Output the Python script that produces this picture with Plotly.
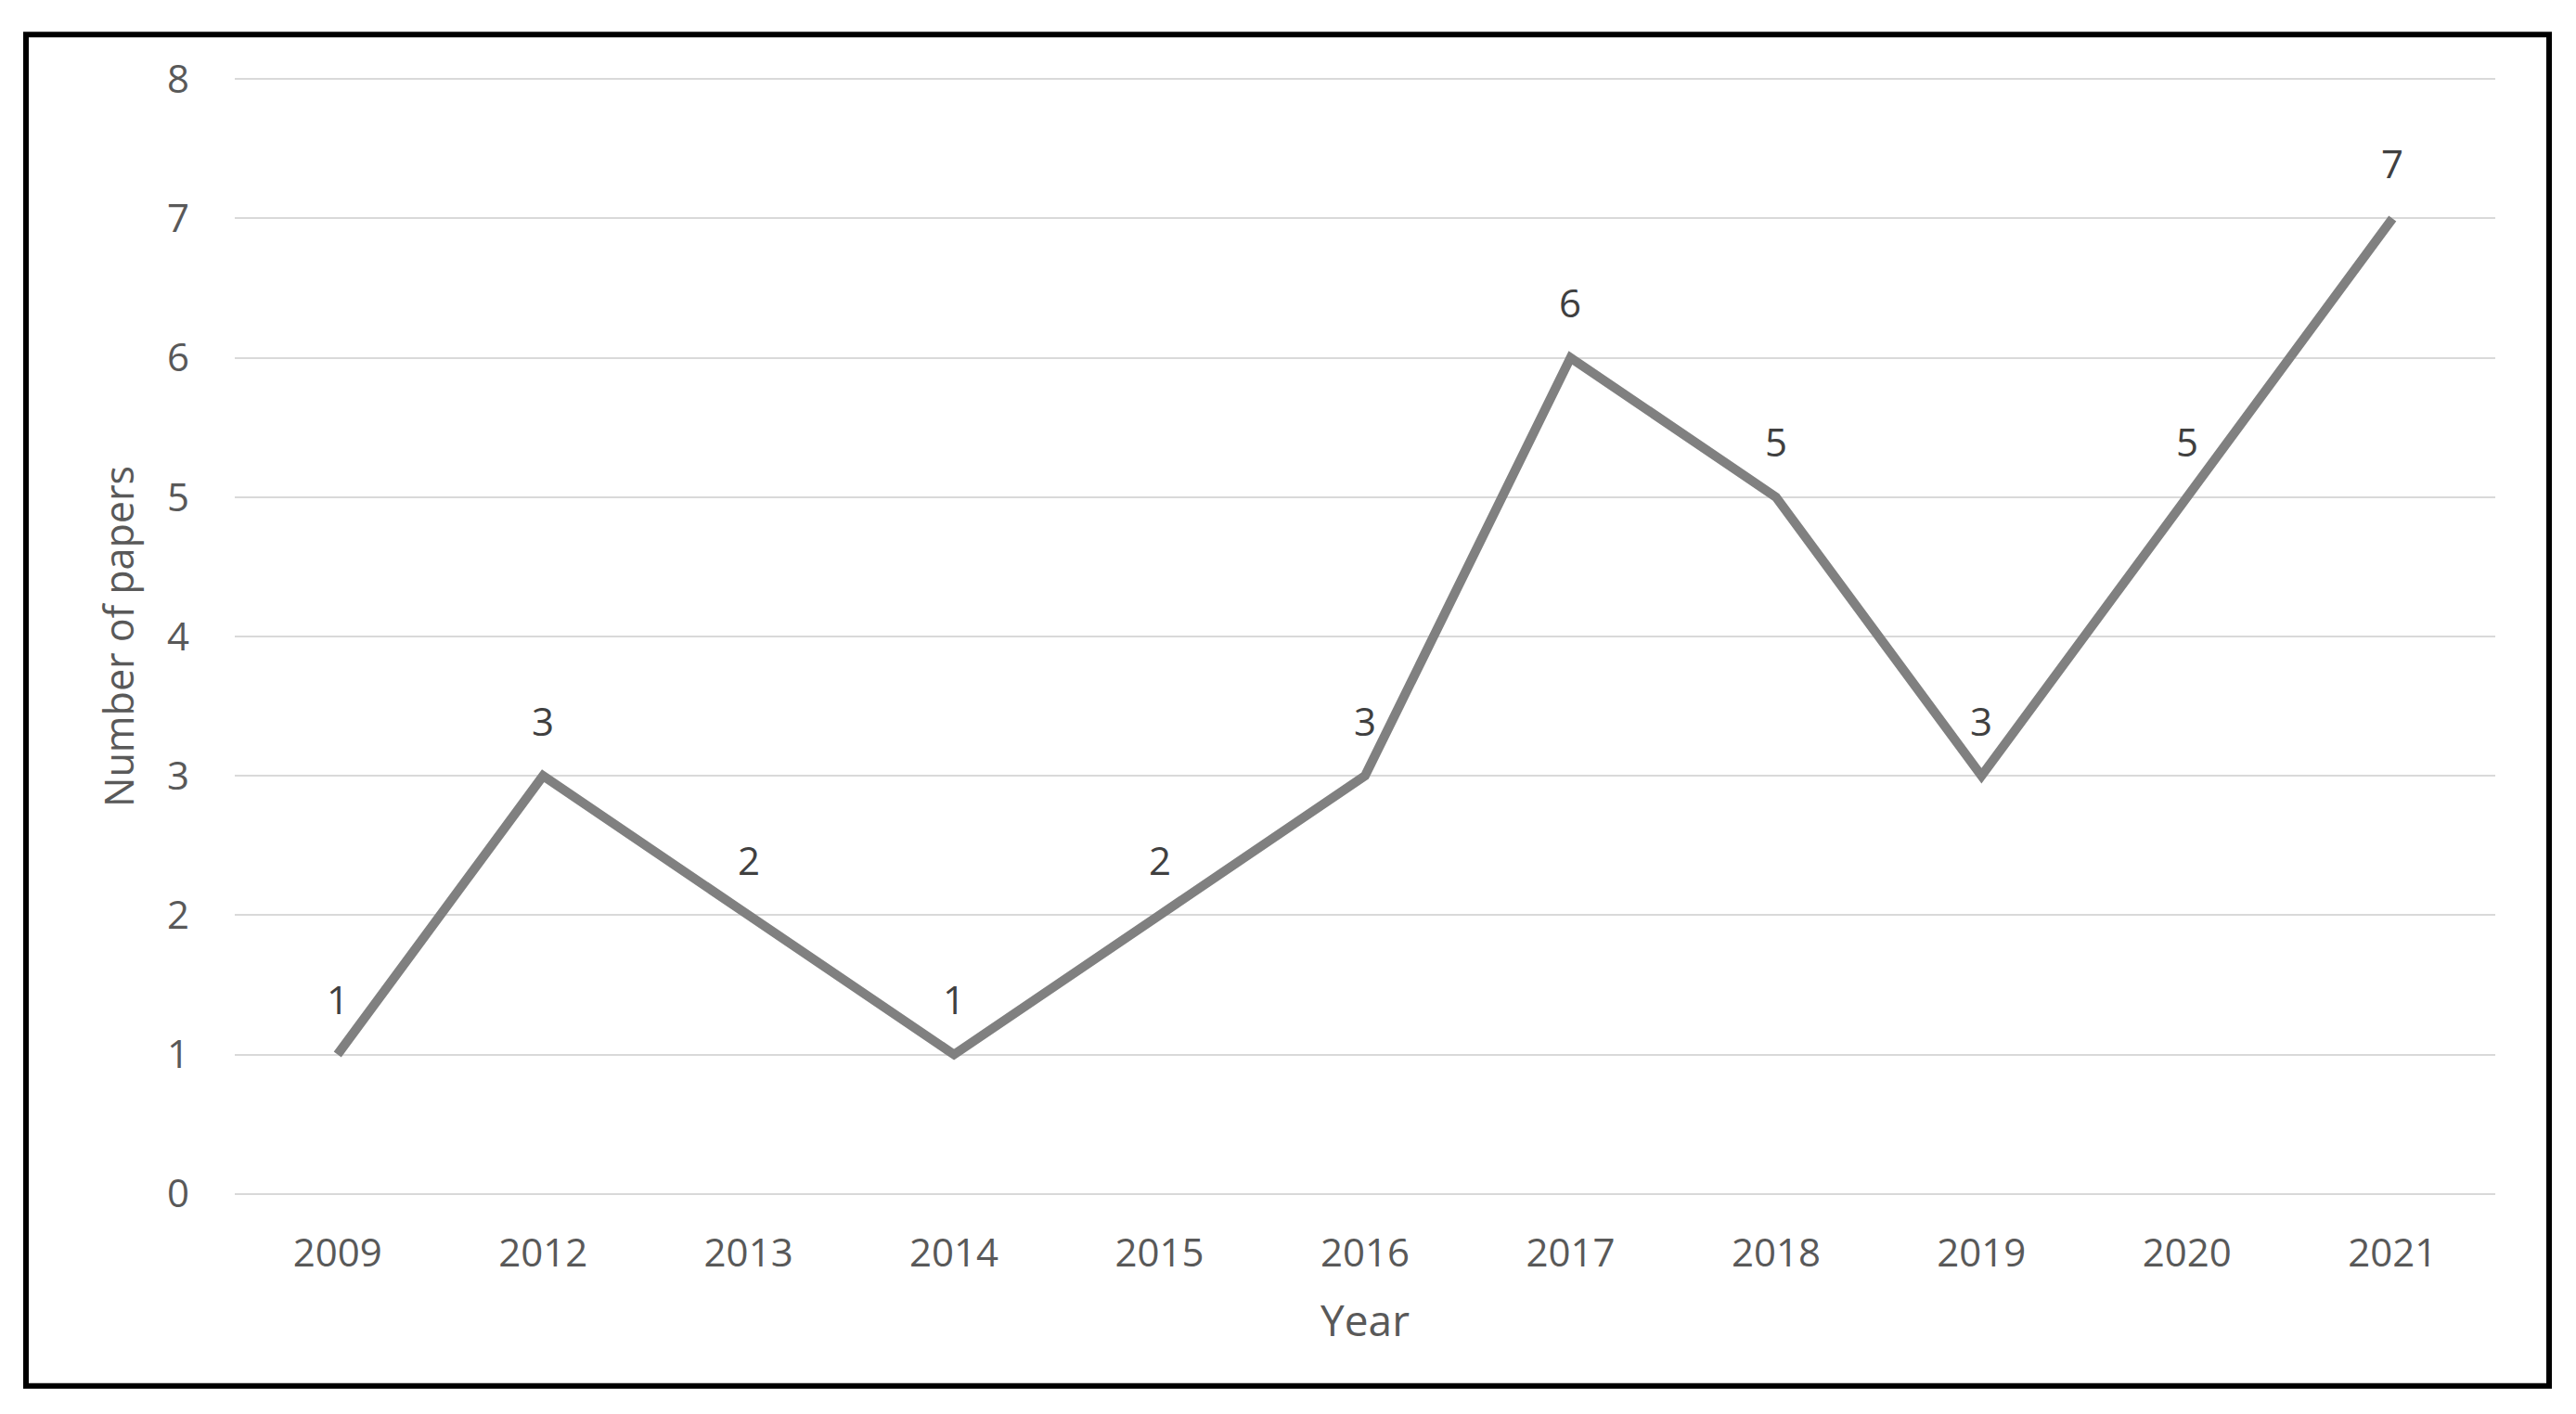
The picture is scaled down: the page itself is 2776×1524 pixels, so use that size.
import plotly.graph_objects as go

years = ["2009", "2012", "2013", "2014", "2015", "2016", "2017", "2018", "2019", "2020", "2021"]
papers = [1, 3, 2, 1, 2, 3, 6, 5, 3, 5, 7]
y_ticks = [0, 1, 2, 3, 4, 5, 6, 7, 8]

# page is offset by the 8px default body margin
OFF = 8
PAGE_W, PAGE_H = 2776, 1524
W, H = PAGE_W - OFF, PAGE_H - OFF
Y_MIN, Y_MAX = 0, 8
eps = 0.015
PL, PR = 253, 2689                      # plot area in page pixels
GY_TOP, GY_BOT = 85, 1287               # pixel positions of y=8 and y=0
unit = (GY_BOT - GY_TOP) / (Y_MAX - Y_MIN)
PT, PB = GY_TOP - eps * unit, GY_BOT + eps * unit
L, T = PL - OFF, PT - OFF
R, B = PAGE_W - PR, PAGE_H - PB
pw, ph = PR - PL, PB - PT

fig = go.Figure()
fig.add_trace(go.Scatter(
    x=years, y=papers, mode="lines",
    line=dict(color="#808080", width=10),
    hoverinfo="skip", showlegend=False,
))

for i, v in enumerate(papers):
    fig.add_annotation(x=i, y=v, text=str(v), showarrow=False, yshift=60,
                       font=dict(family="Open Sans", size=42, color="#404040"))

def px_x(p):
    return (p - PL) / pw
def px_y(p):
    return (PB - p) / ph

# outer black frame
fig.add_shape(type="rect", xref="paper", yref="paper",
              x0=px_x(28), x1=px_x(2747), y0=px_y(1494), y1=px_y(37),
              line=dict(color="black", width=6), fillcolor="rgba(0,0,0,0)", layer="above")

fig.update_layout(
    width=W, height=H,
    margin=dict(l=L, r=R, t=T, b=B, pad=0, autoexpand=False),
    paper_bgcolor="white", plot_bgcolor="white",
    font=dict(family="Open Sans", color="#595959"),
    xaxis=dict(
        type="category", range=[-0.5, len(years) - 0.5],
        showgrid=False, zeroline=False, showline=False, ticks="",
        tickfont=dict(size=42, color="#595959"),
        ticklabelstandoff=33,
        title=dict(text="Year", font=dict(size=46, color="#595959"), standoff=31),
    ),
    yaxis=dict(
        range=[Y_MIN - eps, Y_MAX + eps], tickvals=y_ticks,
        showgrid=True, gridcolor="#d9d9d9", gridwidth=2,
        zeroline=False, showline=False, ticks="",
        tickfont=dict(size=42, color="#595959"),
        ticklabelstandoff=48,
        title=dict(text="Number of papers", font=dict(size=43, color="#595959"), standoff=21),
    ),
)

fig.write_html("out.html")
